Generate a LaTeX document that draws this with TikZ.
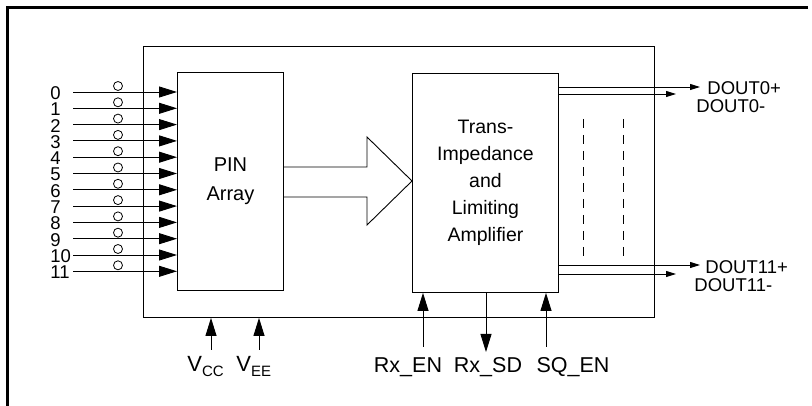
\documentclass[tikz,border=0pt]{standalone}
\usepackage{fontspec}
\setmainfont{Liberation Sans}
\usetikzlibrary{arrows.meta}
\begin{document}
\begin{tikzpicture}[x=1pt,y=-1pt, line width=0.9pt,
  box/.style={draw, inner sep=0pt, anchor=north west, align=center},
  inarrow/.style={-{Triangle[length=18pt,width=11pt]}},
  outarrow/.style={-{Triangle[length=10pt,width=6pt]}},
  lbl/.style={inner sep=0pt, font=\fontsize{18.5}{21}\selectfont},
  blbl/.style={inner sep=0pt, anchor=base, font=\fontsize{21.5}{24}\selectfont},
  dlbl/.style={inner sep=0pt, anchor=west, font=\fontsize{18.5}{21}\selectfont},
  ring/.style={circle, draw, line width=0.8pt, minimum size=9pt, inner sep=0pt},
  ]
\useasboundingbox (0,0) rectangle (812,406);
\fill[white] (0,0) rectangle (812,406);
\draw[line width=2.4pt] (808,7.5) -- (7.5,7.5) -- (7.5,406);

\node[box, minimum width=511pt, minimum height=271pt] (mod) at (143,46) {};
\node[box, minimum width=106pt, minimum height=218pt, font=\fontsize{20}{29}\selectfont] (pin) at (177,72) {PIN\\Array};
\node[box, minimum width=146pt, minimum height=219pt, font=\fontsize{19.5}{27}\selectfont] (tia) at (412,73) {Trans-\\Impedance\\and\\Limiting\\Amplifier};

% inputs
\foreach \i in {0,...,11}{
  \pgfmathsetmacro{\yy}{92+\i*16.3}
  \coordinate (s\i) at (73,\yy);
  \draw[inarrow] (s\i) -- (s\i -| pin.west);
  \node[lbl, anchor=west] (n\i) at (50,\yy+1) {\i};
  \node[ring] (c\i) at (118,\yy-6) {};
}

% wide arrow
\draw (283,167) -- (367,167) -- (367,137) -- (tia.west |- 0,181) -- (367,225) -- (367,197) -- (283,197);

% outputs
\coordinate (o0p) at (700,87);
\coordinate (o0m) at (676,94);
\coordinate (o11p) at (700,265);
\coordinate (o11m) at (676,274);
\draw[outarrow] (tia.east |- o0p) -- (o0p);
\draw[outarrow] (tia.east |- o0m) -- (o0m);
\draw[outarrow] (tia.east |- o11p) -- (o11p);
\draw[outarrow] (tia.east |- o11m) -- (o11m);
\node[dlbl] (d0p) at (707,88) {DOUT0+};
\node[dlbl] (d0m) at (696,106) {DOUT0-};
\node[dlbl] (d11p) at (705,267) {DOUT11+};
\node[dlbl] (d11m) at (694,285) {DOUT11-};

% dashed channel lines
\draw[line width=0.8pt, dash pattern=on 9pt off 7pt] (583,119) -- (583,256);
\draw[line width=0.8pt, dash pattern=on 9pt off 7pt] (623,119) -- (623,256);

% supply
\coordinate (vcc) at (211,350);
\coordinate (vee) at (259,350);
\draw[inarrow] (vcc) -- (vcc |- mod.south);
\draw[inarrow] (vee) -- (vee |- mod.south);
\node[inner sep=0pt, anchor=base west, font=\fontsize{22}{24}\selectfont] (lvcc) at (187,371) {V\raisebox{-5pt}{\fontsize{15}{16}\selectfont CC}};
\node[inner sep=0pt, anchor=base west, font=\fontsize{22}{24}\selectfont] (lvee) at (236,371) {V\raisebox{-5pt}{\fontsize{15}{16}\selectfont EE}};

% control
\coordinate (rxen) at (423,347);
\coordinate (rxsd) at (486,352);
\coordinate (sqen) at (546,347);
\draw[inarrow] (rxen) -- (rxen |- tia.south);
\draw[inarrow] (rxsd |- tia.south) -- (rxsd);
\draw[inarrow] (sqen) -- (sqen |- tia.south);
\node[blbl] (lrxen) at (408,372) {Rx\_EN};
\node[blbl] (lrxsd) at (488,372) {Rx\_SD};
\node[blbl] (lsqen) at (573,372) {SQ\_EN};
\end{tikzpicture}
\end{document}
